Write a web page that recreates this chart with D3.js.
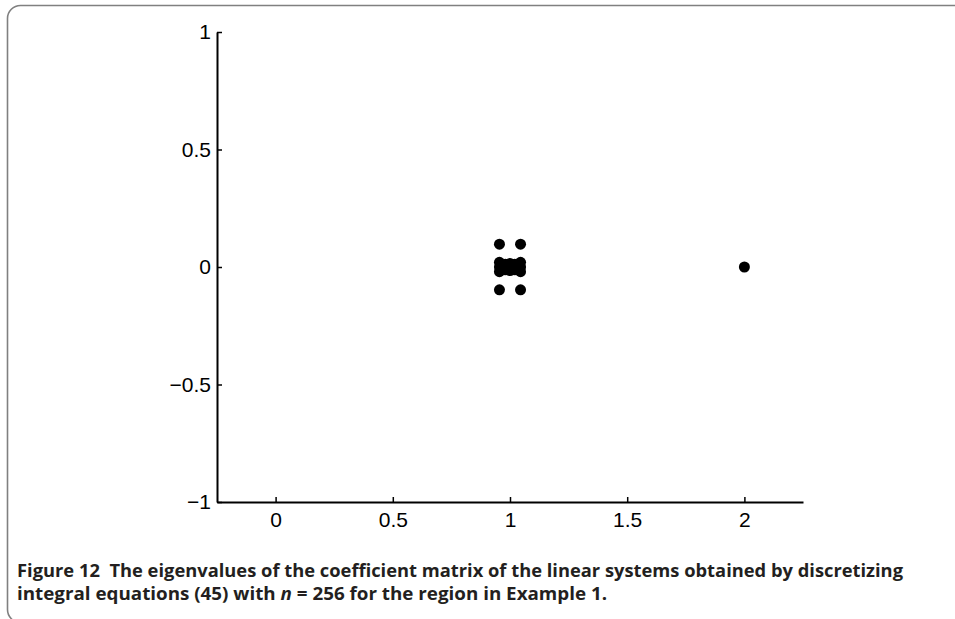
<!DOCTYPE html>
<html>
<head>
    <meta charset="utf-8">
    <title>Eigenvalues</title>
    <script type="text/javascript" src="https://cdn.jsdelivr.net/npm/d3@7"></script>
    <style>
        body { margin: 0; background: #fff; }
        .axis path, .axis line { stroke: #000; }
        .axis text { font-family: "Liberation Sans", Arial, sans-serif; font-size: 21px; fill: #000; }
        .caption { font-family: "Open Sans", sans-serif; font-weight: 700; font-size: 17px; fill: #231f20; }
    </style>
</head>

<body>

<script type="text/javascript">

    // eigenvalues: real part / imaginary part
    var realParts = [0.955, 1.045, 0.955, 1.045,
                     0.955, 0.955, 0.955, 1.045, 1.045, 1.045,
                     0.98, 0.98, 1.0, 1.0, 1.0, 1.02, 1.02,
                     2.0];
    var imagParts = [0.097, 0.097, -0.097, -0.097,
                     0.02, 0.0, -0.02, 0.02, 0.0, -0.02,
                     0.012, -0.012, 0.015, 0.0, -0.015, 0.012, -0.012,
                     0.0];

    var xTicks = [0, 0.5, 1, 1.5, 2],
        yTicks = [-1, -0.5, 0, 0.5, 1];

    var captionLine1 = "The eigenvalues of the coefficient matrix of the linear systems obtained by discretizing";

    var _width = 955, _height = 619,
        _margins = {top: 32, left: 217, right: 152, bottom: 117};

    var svg = d3.select("body").append("svg")
            .attr("width", _width)
            .attr("height", _height);

    // rounded frame round the figure (open to the right and bottom)
    svg.append("rect")
            .attr("x", 7.5)
            .attr("y", 5.5)
            .attr("width", 1200)
            .attr("height", 617)
            .attr("rx", 13)
            .attr("fill", "none")
            .attr("stroke", "#808080")
            .attr("stroke-width", 1.6);

    var x = d3.scaleLinear()
            .domain([-0.25, 2.25])
            .range([_margins.left, _width - _margins.right]);

    var y = d3.scaleLinear()
            .domain([-1, 1])
            .range([_height - _margins.bottom, _margins.top]);

    var fmt = function (d) { return d3.format("")(d).replace("-", "\u2212"); };

    var xAxis = d3.axisBottom(x)
            .tickValues(xTicks)
            .tickFormat(fmt)
            .tickSizeInner(-5)
            .tickSizeOuter(0)
            .tickPadding(10);

    var yAxis = d3.axisLeft(y)
            .tickValues(yTicks)
            .tickFormat(fmt)
            .tickSizeInner(-5)
            .tickSizeOuter(0)
            .tickPadding(6);

    var xg = svg.append("g")
            .attr("class", "axis")
            .attr("transform", "translate(0," + y(-1) + ")")
            .call(xAxis);

    var yg = svg.append("g")
            .attr("class", "axis")
            .attr("transform", "translate(" + x(-0.25) + ",0)")
            .call(yAxis);

    [xg, yg].forEach(function (g)
    {
        g.select(".domain").attr("stroke-width", 2);
        g.selectAll(".tick line").attr("stroke-width", 1.5);
        g.attr("font-size", null).attr("font-family", null);
    });

    // points
    svg.append("g")
            .selectAll("circle")
            .data(realParts)
            .enter()
            .append("circle")
            .attr("cx", function (d) { return x(d); })
            .attr("cy", function (d, i) { return y(imagParts[i]); })
            .attr("r", 5.5)
            .attr("fill", "#000");

    // caption
    var cap = svg.append("g").attr("class", "caption");

    var t1 = cap.append("text")
            .attr("x", 17)
            .attr("y", 577)
            .attr("textLength", 886)
            .attr("lengthAdjust", "spacingAndGlyphs");
    t1.append("tspan").text("Figure 12\u00a0\u00a0" + captionLine1);

    var t2 = cap.append("text")
            .attr("x", 17)
            .attr("y", 600)
            .attr("textLength", 590)
            .attr("lengthAdjust", "spacingAndGlyphs");
    t2.append("tspan").text("integral equations (45) with ");
    t2.append("tspan").attr("font-style", "italic").text("n");
    t2.append("tspan").text(" = 256 for the region in Example 1.");

</script>

</body>

</html>
